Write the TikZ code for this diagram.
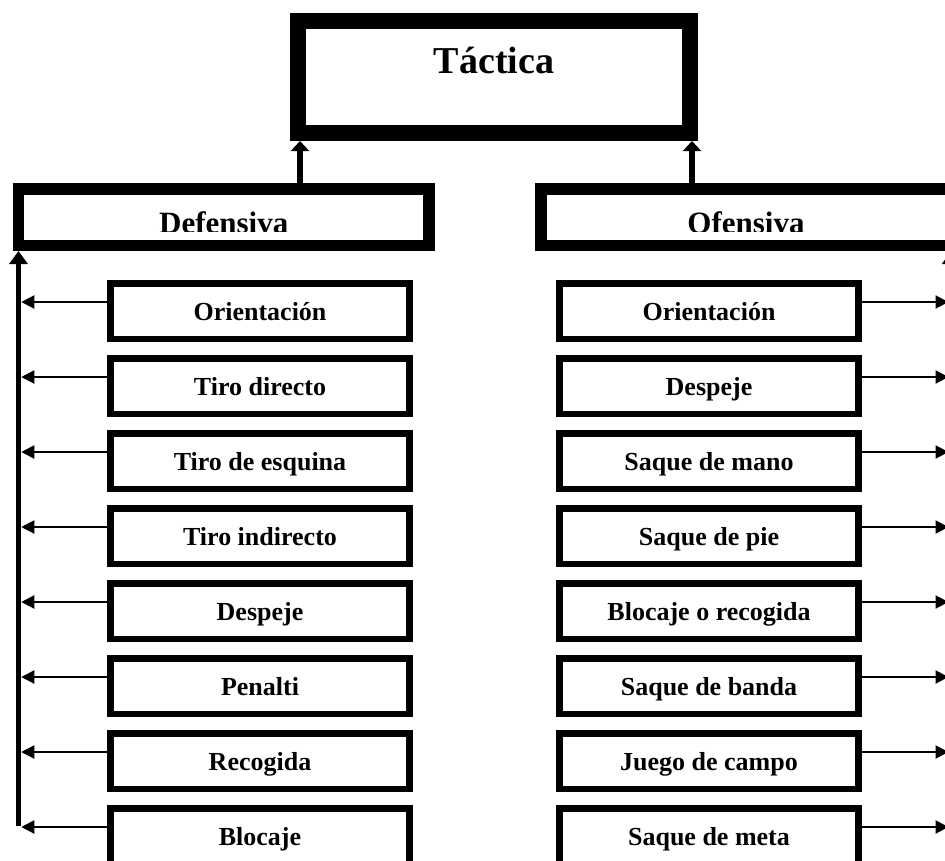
\documentclass[tikz,border=0pt]{standalone}
\usepackage{fontspec}
\setmainfont{Liberation Serif}
\usetikzlibrary{arrows.meta}

\tikzset{
    topbox/.style={draw,line width=16pt,minimum width=392pt,minimum height=112pt,inner sep=0pt,
        font=\bfseries\fontsize{38}{40}\selectfont,text height=24pt,text depth=32pt},
    sidebox/.style={draw,line width=11.5pt,minimum width=410.5pt,minimum height=56.5pt,inner sep=0pt},
    sidetext/.style={anchor=base,inner sep=0pt,font=\bfseries\fontsize{31}{33}\selectfont},
    itembox/.style={draw,line width=6.5pt,minimum width=299pt,minimum height=55.5pt,inner sep=0pt,
        font=\bfseries\fontsize{26}{28}\selectfont,text height=18pt,text depth=0pt},
    trunk/.style={line width=5.5pt,-{Triangle[length=13pt,width=18pt]}},
    lift/.style={line width=5.5pt,-{Triangle[length=10pt,width=18pt]}},
    feed/.style={line width=2pt,shorten >=2.75pt,-{Triangle[length=13pt,width=13pt]}}
}

\begin{document}
\begin{tikzpicture}[x=1pt,y=-1pt]
    \clip (0,0) rectangle (945,860);
    %% Main box
    \node[topbox] (tac) at (494,77) {Táctica};
    %% Defensiva and Ofensiva
    \node[sidebox] (def) at (223.75,217) {};
    \node[sidebox] (ofe) at (746,217) {};
    \begin{scope}
        \clip (0,0) rectangle (945,231.5);
        \node[sidetext] (deftext) at (223.75,233.5) {Defensiva};
        \node[sidetext] (ofetext) at (746,233.5) {Ofensiva};
    \end{scope}
    \draw[lift] ([xshift=10pt]tac.south west |- def.north) -- ([xshift=10pt]tac.south west);
    \draw[lift] ([xshift=-6pt]tac.south east |- ofe.north) -- ([xshift=-6pt]tac.south east);
    %% Trunks
    \coordinate (lt) at (18.5,826);
    \coordinate (rt) at (951.25,826);
    \draw[trunk] (lt) -- (lt |- def.south);
    \draw[trunk] (rt) -- (rt |- ofe.south);
    %% Defensive items
    \foreach \txt [count=\i] in {Orientación,Tiro directo,Tiro de esquina,Tiro indirecto,Despeje,Penalti,Recogida,Blocaje}{
        \node[itembox] (l\i) at (260,{236+75*\i}) {\txt};
        \draw[feed] ([yshift=9pt]l\i.west) -- ([yshift=9pt]l\i.west -| lt);
    }
    %% Offensive items
    \foreach \txt [count=\i] in {Orientación,Despeje,Saque de mano,Saque de pie,Blocaje o recogida,Saque de banda,Juego de campo,Saque de meta}{
        \node[itembox] (r\i) at (709,{236+75*\i}) {\txt};
        \draw[feed] ([yshift=9pt]r\i.east) -- ([yshift=9pt]r\i.east -| rt);
    }
\end{tikzpicture}
\end{document}
